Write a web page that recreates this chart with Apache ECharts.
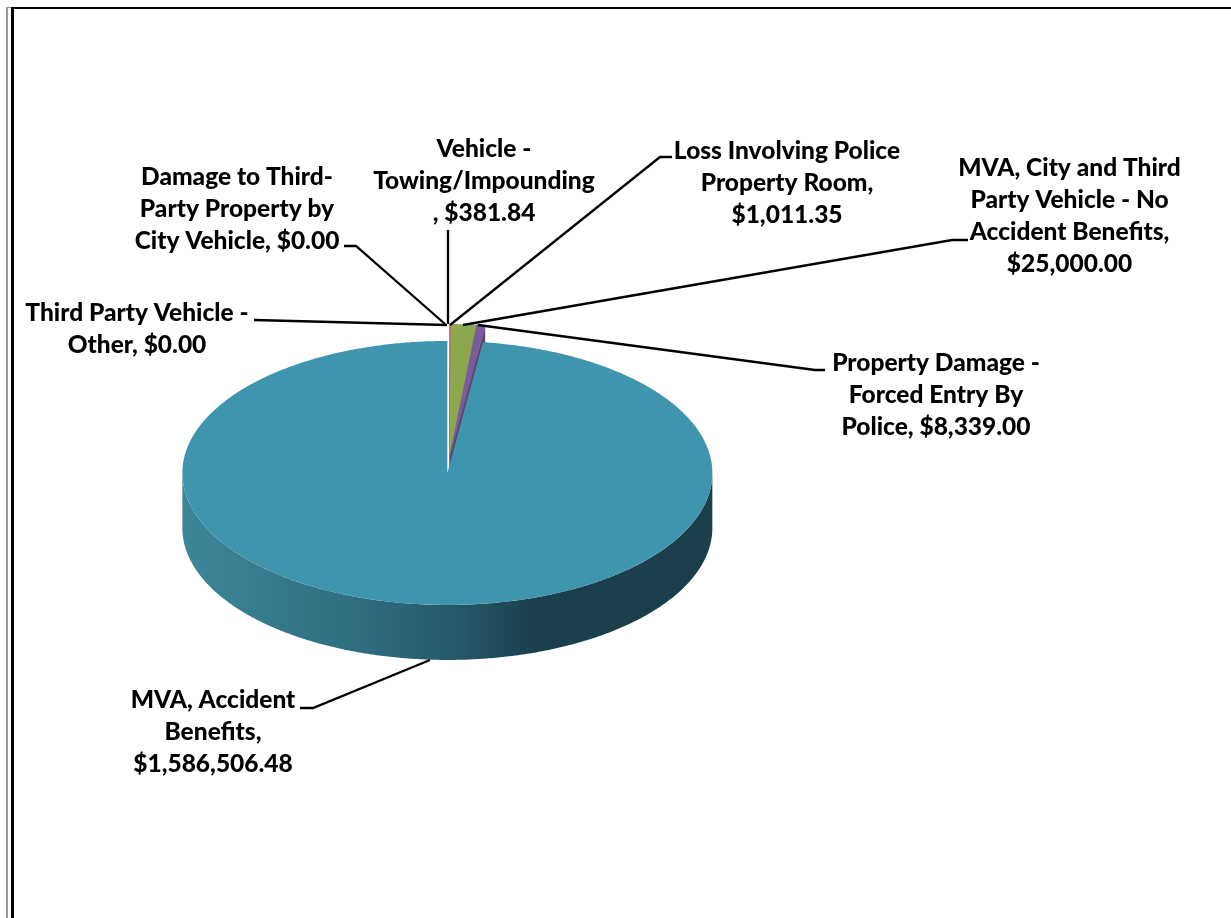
<!DOCTYPE html>
<html>
<head>
<meta charset="utf-8">
<style>
  html, body { margin: 0; padding: 0; background: #fff; }
  #chart { width: 1231px; height: 918px; }
</style>
<script src="https://cdn.jsdelivr.net/npm/echarts@6/dist/echarts.min.js"></script>
</head>
<body>
<div id="chart"></div>
<script>
// Claim categories, clockwise from twelve o'clock
const categories = [
  'Third Party Vehicle - Other',
  'Damage to Third-Party Property by City Vehicle',
  'Vehicle - Towing/Impounding',
  'Loss Involving Police Property Room',
  'MVA, City and Third Party Vehicle - No Accident Benefits',
  'Property Damage - Forced Entry By Police',
  'MVA, Accident Benefits'
];
const amounts = [0, 0, 381.84, 1011.35, 25000, 8339, 1586506.48];
const labelTexts = [
  'Third Party Vehicle -\nOther, $0.00',
  'Damage to Third-\nParty Property by\nCity Vehicle, $0.00',
  'Vehicle -\nTowing/Impounding\n, $381.84',
  'Loss Involving Police\nProperty Room,\n$1,011.35',
  'MVA, City and Third\nParty Vehicle - No\nAccident Benefits,\n$25,000.00',
  'Property Damage -\nForced Entry By\nPolice, $8,339.00',
  'MVA, Accident\nBenefits,\n$1,586,506.48'
];
const sliceColors = ['#4f81bd', '#c0504d', '#c0504d', '#b8735f', '#8ca84f', '#7a5c9a', '#4095ae'];
const cutFaceColors = ['#3b618e', '#903c3a', '#903c3a', '#8a5647', '#697e3b', '#5c4574', '#307083'];

// Pie geometry: a tilted disc, so the vertical radius is squashed
const PIE = { cx: 448.5, cy: 464.5, rx: 265, ry: 132, depth: 55, explode: 17 };

// Label centres and leader paths, in the same order as the categories
const labelCenters = [
  [137, 329], [237, 209], [484, 181], [787, 183], [1069.5, 216], [936, 395], [213, 732]
];
const leaderPaths = [
  [[254, 320], [447, 325]],
  [[344, 246], [356, 246], [445, 324]],
  [[448, 230], [448, 324]],
  [[672, 157], [660, 157], [450, 325]],
  [[968, 240], [952, 240], [463, 325]],
  [[825, 370], [815, 370], [478, 325]],
  [[300, 708], [313, 708], [430, 660]]
];

const total = amounts.reduce((a, b) => a + b, 0);
const startAngles = [];
amounts.reduce((acc, v, i) => { startAngles[i] = acc; return acc + v / total * 360; }, 0);
const largest = amounts.indexOf(Math.max(...amounts));

// Point on a slice rim; angle is in degrees, clockwise from the top
function rimPoint(c, deg, drop) {
  const t = deg * Math.PI / 180;
  return [c[0] + PIE.rx * Math.sin(t), c[1] - PIE.ry * Math.cos(t) + (drop || 0)];
}
function arcPoints(c, from, to, drop) {
  const pts = [];
  const steps = Math.max(1, Math.ceil((to - from) / 0.5));
  for (let i = 0; i <= steps; i++) pts.push(rimPoint(c, from + (to - from) * i / steps, drop));
  return pts;
}

const frontWall = {
  type: 'linear', x: 0, y: 0, x2: 1, y2: 0,
  colorStops: [
    { offset: 0, color: '#3d8699' },
    { offset: 0.33, color: '#2f6d80' },
    { offset: 0.5, color: '#265b6c' },
    { offset: 0.66, color: '#1b404d' },
    { offset: 1, color: '#1a3e4a' }
  ]
};

function renderSlice(params, api) {
  const i = params.dataIndex;
  const value = api.value(0);
  const from = startAngles[i];
  const to = from + value / total * 360;
  // The small claims move out together along their shared bisector,
  // the largest claim moves the opposite way along its own
  const bisector = i === largest ? (from + to) / 2 : startAngles[largest] / 2;
  const mid = bisector * Math.PI / 180;
  const c = [
    PIE.cx + PIE.explode * Math.sin(mid),
    PIE.cy - PIE.explode * (PIE.ry / PIE.rx) * Math.cos(mid)
  ];
  const children = [];

  if (value > 0) {
    const color = sliceColors[i];
    // Cut face on the clockwise side of a slice in the right half of the disc
    if (to < 180) {
      const rim = rimPoint(c, to);
      children.push({
        type: 'polygon',
        shape: { points: [c, rim, [rim[0], rim[1] + PIE.depth], [c[0], c[1] + PIE.depth]] },
        style: { fill: cutFaceColors[i] }
      });
    }
    // Outer wall, only where the rim faces the viewer
    const wallFrom = Math.max(from, 90);
    const wallTo = Math.min(to, 270);
    if (wallTo > wallFrom) {
      const upper = arcPoints(c, wallFrom, wallTo, 0);
      const lower = arcPoints(c, wallFrom, wallTo, PIE.depth).reverse();
      children.push({
        type: 'polygon',
        shape: { points: upper.concat(lower) },
        style: { fill: frontWall }
      });
    }
    // Top face; a thin outline keeps the narrowest slices visible
    children.push({
      type: 'polygon',
      shape: { points: [c].concat(arcPoints(c, from, to, 0)) },
      style: { fill: color, stroke: value / total < 0.01 ? color : null, lineWidth: 0.6 }
    });
  }

  children.push({
    type: 'polyline',
    shape: { points: leaderPaths[i] },
    style: { stroke: '#000', lineWidth: 2.3, fill: 'none' },
    z2: 10
  });
  children.push({
    type: 'text',
    x: labelCenters[i][0],
    y: labelCenters[i][1],
    style: {
      text: labelTexts[i],
      align: 'center',
      verticalAlign: 'middle',
      fontFamily: 'Lato',
      fontWeight: 900,
      fontSize: 24.5,
      lineHeight: 32,
      fill: '#000'
    },
    z2: 11
  });
  return { type: 'group', children };
}

const chart = echarts.init(document.getElementById('chart'), null, { renderer: 'canvas' });
chart.setOption({
  animation: false,
  backgroundColor: '#fff',
  // Double page rule along the top and left edges
  graphic: [
    { type: 'rect', shape: { x: 6, y: 7, width: 2, height: 911 }, style: { fill: '#999' } },
    { type: 'rect', shape: { x: 6, y: 7, width: 6, height: 1 }, style: { fill: '#999' } },
    { type: 'rect', shape: { x: 11, y: 7, width: 3, height: 911 }, style: { fill: '#000' } },
    { type: 'rect', shape: { x: 11, y: 7, width: 1220, height: 2 }, style: { fill: '#000' } }
  ],
  series: [{
    type: 'custom',
    name: 'Claims',
    coordinateSystem: 'none',
    renderItem: renderSlice,
    data: amounts.map((v, i) => ({ name: categories[i], value: [v] })),
    silent: true
  }]
});
</script>
</body>
</html>
